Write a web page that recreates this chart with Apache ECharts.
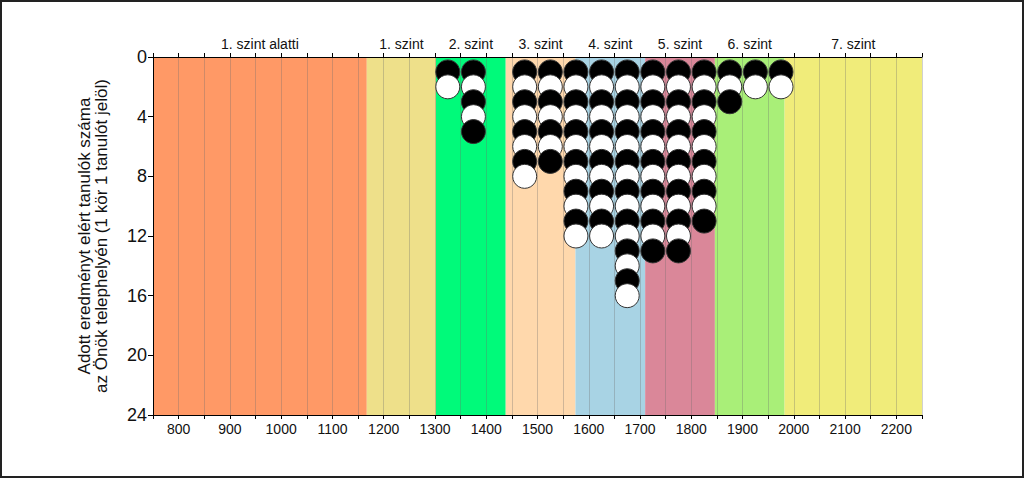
<!DOCTYPE html>
<html>
<head>
<meta charset="utf-8">
<script src="https://cdn.jsdelivr.net/npm/echarts@6/dist/echarts.min.js"></script>
<style>
html,body{margin:0;padding:0;background:#fff;}
#chart{width:1024px;height:478px;}
</style>
</head>
<body>
<div id="chart"></div>
<script>
// Level bands
var levelNames = ['1. szint alatti','1. szint','2. szint','3. szint','4. szint','5. szint','6. szint','7. szint'];
var levelEdges = [750, 1167, 1302, 1438, 1574, 1710, 1846, 1982, 2250];
var levelColors = ['#FF9966','#EEE08A','#00FA7A','#FFD8AC','#A8D3E4','#DA8799','#A9EF78','#F0EC7A'];
// Columns of circles (score position) and number of students
var columnX = [1325, 1375, 1475, 1525, 1575, 1625, 1675, 1725, 1775, 1825, 1875, 1925, 1975];
var columnCounts = [2, 5, 8, 7, 12, 12, 16, 13, 13, 11, 3, 2, 2];
// Axis ticks
var xTickLabels = [800,900,1000,1100,1200,1300,1400,1500,1600,1700,1800,1900,2000,2100,2200];
var yTicks = [0,4,8,12,16,20,24];

var bandData = [];
for (var i = 0; i < levelNames.length; i++) {
  bandData.push([levelEdges[i], levelEdges[i+1], i]);
}
var allPts = [];
for (var c = 0; c < columnX.length; c++) {
  for (var k = 1; k <= columnCounts[c]; k++) {
    allPts.push({value:[columnX[c], k], itemStyle:{color: (k % 2 === 1) ? '#000000' : '#FFFFFF'}});
  }
}

var chart = echarts.init(document.getElementById('chart'), null, {renderer:'svg'});
var fontFam = '"Liberation Sans", Arial, sans-serif';
chart.setOption({
  animation:false,
  backgroundColor:'#fff',
  graphic:[{type:'rect', shape:{x:1,y:1,width:1022,height:476}, style:{fill:'none', stroke:'#222', lineWidth:2}, z:100}],
  grid:{left:153, right:102, top:57, bottom:63},
  xAxis:[{
    type:'value', min:750, max:2250, interval:50, position:'bottom', z:1,
    axisLine:{show:true, onZero:false, lineStyle:{color:'#000', width:1}},
    axisTick:{show:true, length:4, lineStyle:{color:'#000'}},
    axisLabel:{show:true, fontSize:14, color:'#111', fontFamily:fontFam, margin:7,
      formatter:function(v){ return xTickLabels.indexOf(v) >= 0 ? String(v) : ''; }},
    splitLine:{show:true, lineStyle:{color:'rgba(110,110,110,0.32)', width:1}}
  },{
    type:'value', min:750, max:2250, interval:50, position:'top', z:1,
    axisLine:{show:true, onZero:false, lineStyle:{color:'#000', width:1}},
    axisTick:{show:true, length:4, lineStyle:{color:'#000'}},
    axisLabel:{show:false},
    splitLine:{show:false}
  }],
  yAxis:{
    type:'value', inverse:true, min:0, max:24, interval:4, z:1,
    axisLine:{show:true, lineStyle:{color:'#000', width:1}},
    axisTick:{show:true, length:5, lineStyle:{color:'#000'}},
    axisLabel:{fontSize:18, color:'#111', fontFamily:fontFam, margin:6,
      formatter:function(v){ return yTicks.indexOf(v) >= 0 ? String(v) : ''; }},
    splitLine:{show:false},
    name:'Adott eredményt elért tanulók száma\naz Önök telephelyén (1 kör 1 tanulót jelöl)',
    nameLocation:'middle', nameRotate:90, nameGap:43,
    nameTextStyle:{fontSize:17, color:'#111', fontFamily:fontFam, lineHeight:17}
  },
  series:[{
    type:'custom', z:0, clip:false, silent:true,
    data:bandData,
    renderItem:function(params, api){
      var x0 = api.value(0), x1 = api.value(1), idx = api.value(2);
      var p0 = api.coord([x0, 0]);
      var p1 = api.coord([x1, 24]);
      return {type:'group', children:[
        {type:'rect', shape:{x:p0[0], y:p0[1], width:p1[0]-p0[0], height:p1[1]-p0[1]},
         style:{fill:levelColors[idx]}},
        {type:'text', x:(p0[0]+p1[0])/2, y:p0[1]-13,
         style:{text:levelNames[idx], fill:'#111', font:'14px ' + fontFam, align:'center', verticalAlign:'middle'}}
      ]};
    }
  },{
    type:'scatter', z:2, symbol:'circle', symbolSize:24,
    itemStyle:{borderColor:'#333', borderWidth:1, opacity:1},
    data:allPts
  }]
});
</script>
</body>
</html>
